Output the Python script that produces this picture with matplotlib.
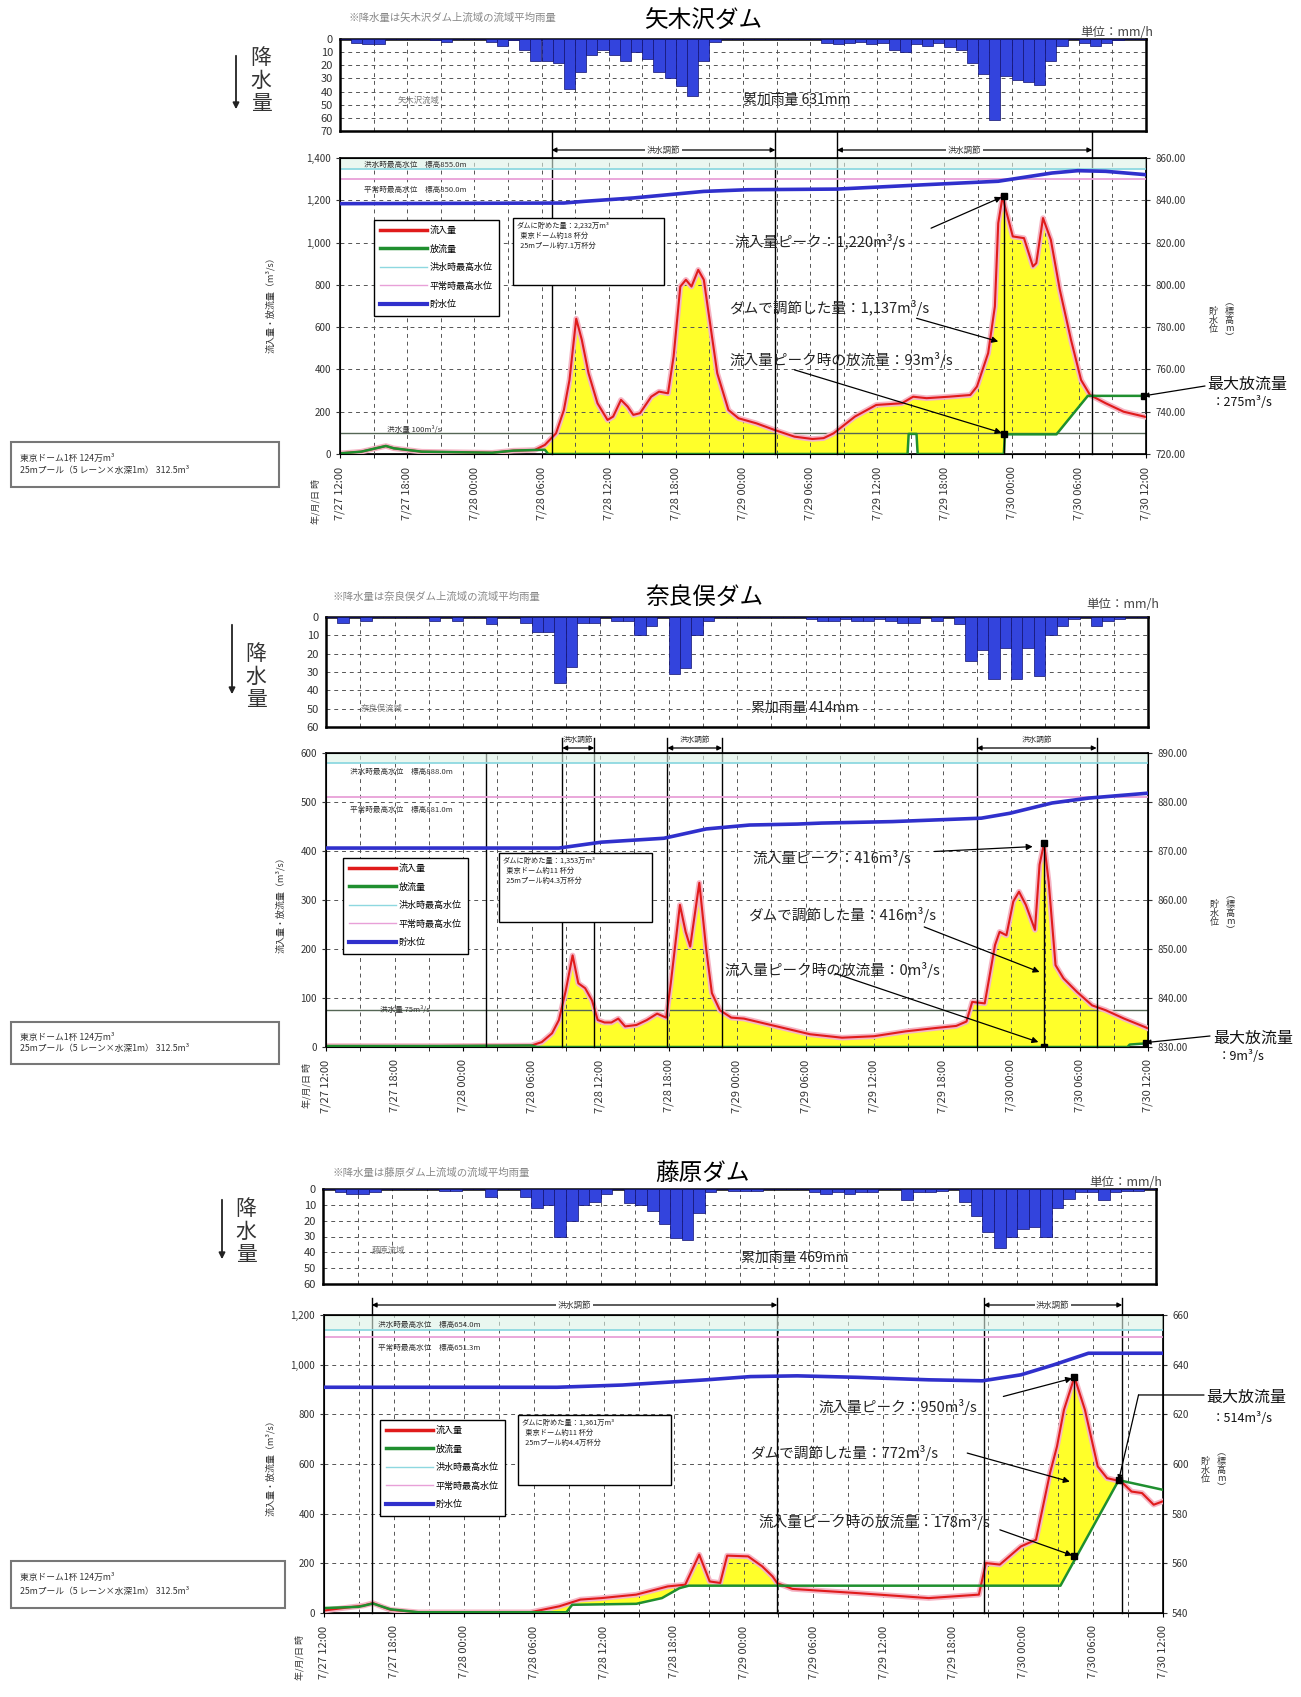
import numpy as np
import matplotlib
matplotlib.use("Agg")
import matplotlib.pyplot as plt
from matplotlib.lines import Line2D
from matplotlib.patches import Rectangle, FancyArrowPatch
from matplotlib.ticker import FuncFormatter

plt.rcParams['font.family'] = ['Noto Sans CJK JP', 'DejaVu Sans']
plt.rcParams['axes.unicode_minus'] = False

# ---------------- data ----------------
TICK_LABELS = ['7/27 12:00', '7/27 18:00', '7/28 00:00', '7/28 06:00', '7/28 12:00',
               '7/28 18:00', '7/29 00:00', '7/29 06:00', '7/29 12:00', '7/29 18:00',
               '7/30 00:00', '7/30 06:00', '7/30 12:00']
LEGEND_LABELS = ['流入量', '放流量', '洪水時最高水位', '平常時最高水位', '貯水位']

# 矢木沢ダム  (hours from 7/27 12:00)
YAG_RAIN = [0, 3, 4, 4, 0, 0, 0, 0, 1, 2, 0, 0, 0, 2, 5, 1, 8, 17, 17, 18, 38, 25, 12, 8,
            12, 17, 10, 15, 25, 30, 36, 43, 17, 2, 0, 0, 0, 0, 0, 0, 0, 0, 0, 3, 4, 3, 2, 4,
            3, 8, 10, 4, 5, 3, 6, 8, 18, 27, 62, 28, 31, 33, 35, 17, 5, 0, 3, 5, 3, 1, 0, 0]
YAG_IN_T = [0, 1.9, 4.1, 4.8, 7.3, 13.6, 15.5, 17.4, 18.3, 19.3, 20.0, 20.5, 21.1, 21.6, 22.2,
            23.0, 23.9, 24.4, 25.1, 25.7, 26.2, 26.8, 27.8, 28.5, 29.3, 29.8, 30.4, 30.9, 31.4,
            32.0, 32.5, 33.1, 33.7, 34.7, 35.6, 37.2, 38.8, 40.6, 42.2, 43.2, 44.1, 46.0, 47.9,
            50.2, 51.2, 52.4, 54.4, 56.3, 56.9, 57.9, 58.5, 58.8, 59.2, 59.4, 60.1, 61.1, 61.9,
            62.2, 62.8, 63.5, 64.3, 65.3, 66.2, 67.0, 68.4, 70.0, 72.0]
YAG_IN_Q = [3, 11, 38, 27, 11, 6, 16, 19, 43, 98, 208, 350, 640, 540, 382,
            240, 161, 177, 256, 224, 185, 193, 271, 295, 287, 461, 792, 824, 792,
            871, 824, 603, 382, 208, 169, 145, 114, 82, 71, 75, 98, 177, 232,
            240, 271, 264, 271, 279, 319, 477, 698, 1092, 1220, 1171, 1029, 1021, 887,
            903, 1116, 1013, 777, 540, 350, 279, 240, 200, 175]
YAG_OUT_T = [0, 1.9, 4.1, 4.8, 7.3, 13.6, 15.5, 17.4, 18.3, 18.6, 50.7, 50.8, 51.5, 51.6,
             59.3, 59.4, 64.0, 66.8, 72.0]
YAG_OUT_Q = [3, 11, 38, 27, 11, 6, 16, 19, 20, 0, 0, 95, 95, 0, 0, 93, 93, 275, 275]
YAG_WL_T = [0, 20, 21.8, 26.2, 32.5, 36.4, 44.4, 52.4, 58.8, 63.6, 65.9, 68.4, 72]
YAG_WL = [838.4, 838.7, 839.5, 841.1, 844.2, 845.0, 845.3, 847.4, 849.0, 852.9, 854.0, 853.7, 852.1]
YAG_FLOOD_WL, YAG_NORMAL_WL, YAG_FLOOD_Q = 855.0, 850.0, 100
YAG_CONTROL = [(18.9, 38.9), (44.4, 67.2)]
YAG_PEAK = (59.3, 1220, 93)
YAG_MAXOUT = (71.8, 275)

# 奈良俣ダム
NAR_RAIN = [0, 3, 0, 2, 0, 0, 0, 0, 0, 2, 0, 2, 0, 0, 4, 0, 0, 3, 8, 8, 36, 27, 3, 3,
            0, 2, 2, 10, 5, 0, 31, 28, 10, 2, 0, 0, 0, 0, 0, 0, 0, 0, 1, 2, 2, 1, 2, 2,
            1, 2, 3, 3, 0, 2, 0, 4, 24, 18, 34, 17, 34, 17, 32, 10, 5, 1, 0, 5, 2, 1, 0, 0]
NAR_IN_T = [0, 10, 18.0, 18.9, 19.8, 20.4, 21.0, 21.6, 22.1, 22.7, 23.3, 23.8, 24.4, 25.0,
            25.6, 26.2, 27.2, 28.1, 29.0, 29.8, 30.2, 31.0, 31.5, 31.9, 32.7, 33.3, 33.8,
            34.5, 35.5, 36.6, 39.5, 42.4, 45.2, 48.0, 50.8, 53.5, 55.2, 56.1, 56.6, 57.7,
            58.6, 59.0, 59.6, 60.2, 60.7, 61.3, 62.1, 62.5, 62.9, 63.3, 63.9, 64.6, 65.8,
            67.1, 68.3, 69.9, 71.7, 72]
NAR_IN_Q = [2, 2, 3, 10, 28, 55, 115, 187, 130, 120, 95, 55, 50, 50,
            58, 42, 45, 55, 68, 60, 130, 290, 235, 205, 335, 200, 110,
            75, 60, 58, 42, 26, 19, 22, 32, 39, 43, 52, 92, 89,
            208, 235, 228, 297, 317, 290, 239, 372, 416, 337, 167, 140, 112,
            85, 75, 58, 41, 38]
NAR_OUT_T = [0, 10, 18.0, 18.5, 70.2, 70.4, 71.6, 72]
NAR_OUT_Q = [2, 2, 3, 0, 0, 5, 7, 9]
NAR_WL_T = [0, 20.4, 24.1, 29.6, 33.3, 37.1, 41.3, 43.4, 49.6, 57.4, 59.9, 63.6, 66.8, 72]
NAR_WL = [870.6, 870.6, 871.8, 872.6, 874.5, 875.3, 875.5, 875.7, 876.0, 876.7, 877.7, 879.8,
          880.8, 881.8]
NAR_FLOOD_WL, NAR_NORMAL_WL, NAR_FLOOD_Q = 888.0, 881.0, 75
NAR_CONTROL = [(20.7, 23.5), (29.9, 34.7), (57.0, 67.5)]
NAR_PEAK = (62.9, 416, 0)
NAR_MAXOUT = (71.8, 9)

# 藤原ダム
FUJ_RAIN = [0, 2, 3, 3, 2, 0, 0, 0, 0, 0, 1, 1, 0, 0, 5, 0, 0, 5, 12, 10, 30, 20, 10, 8,
            3, 0, 9, 10, 14, 22, 31, 32, 15, 2, 0, 1, 1, 1, 0, 0, 0, 0, 2, 3, 2, 3, 2, 2,
            0, 0, 7, 2, 2, 1, 0, 8, 17, 27, 37, 30, 25, 24, 30, 12, 6, 2, 2, 7, 2, 1, 1, 0]
FUJ_IN_T = [0, 2, 3.4, 4.2, 5.0, 5.7, 8.1, 17.7, 20.2, 22.0, 23.8, 26.8, 29.5, 31.0, 32.2,
            33.1, 34.0, 34.6, 36.4, 37.6, 38.5, 38.9, 40.2, 45.8, 51.9, 56.2, 56.8, 58.0,
            59.8, 61.1, 62.3, 62.9, 63.5, 64.4, 65.3, 66.4, 67.2, 68.4, 69.3, 70.2, 71.2, 72]
FUJ_IN_Q = [10, 22, 30, 40, 25, 13, 3, 3, 27, 54, 60, 74, 107, 114, 235,
            127, 121, 231, 228, 188, 147, 120, 97, 80, 60, 74, 201, 195,
            268, 295, 563, 670, 818, 950, 818, 590, 543, 530, 489, 483, 436, 450]
FUJ_OUT_T = [0, 3.0, 4.2, 5.7, 8.1, 20.8, 21.3, 26.8, 29.0, 30.5, 31.3, 63.2, 68.2, 72]
FUJ_OUT_Q = [20, 25, 38, 15, 3, 3, 33, 37, 60, 100, 110, 110, 535, 496]
FUJ_WL_T = [0, 20, 25.6, 32.8, 36.6, 40.6, 45.8, 51.9, 56.5, 59.8, 62.6, 65.6, 72]
FUJ_WL = [630.9, 630.9, 631.8, 633.9, 635.2, 635.5, 634.9, 633.9, 633.5, 635.9, 639.9, 644.6, 644.6]
FUJ_FLOOD_WL, FUJ_NORMAL_WL = 654.0, 651.3
FUJ_CONTROL = [(4.1, 38.9), (56.6, 68.5)]
FUJ_PEAK = (64.4, 950, 228)
FUJ_MAXOUT = (68.2, 535)

# ---------------- figure helpers ----------------
W, H = 1301, 1697
fig = plt.figure(figsize=(W / 100, H / 100), dpi=100)
fig.patch.set_facecolor('white')


def fx(x):
    return x / W


def fy(y):
    return 1 - y / H


def add_ax(x0, y0, x1, y1):
    return fig.add_axes([fx(x0), fy(y1), (x1 - x0) / W, (y1 - y0) / H])


def ftext(x, y, s, **kw):
    return fig.text(fx(x), fy(y), s, **kw)


def fbox(x0, y0, x1, y1, lw=1.0, ec='k'):
    r = Rectangle((fx(x0), fy(y1)), (x1 - x0) / W, (y1 - y0) / H, transform=fig.transFigure,
                  fc='white', ec=ec, lw=lw, zorder=2)
    fig.patches.append(r)


GRID = dict(color='#555555', lw=0.7, ls=(0, (4, 4)))
RED, GREEN, BLUE = '#E01B1B', '#1F8F2F', '#3030CC'
CYAN, PINK = '#8ED8E0', '#E8A0D8'


def draw_panel(P):
    # ---- rainfall ----
    axr = add_ax(*P['rain_box'])
    rain = np.array(P['rain'])
    axr.bar(np.arange(len(rain)) + 0.5, rain, width=1.0, color='#3344DD',
            edgecolor='#101070', lw=0.5, zorder=3)
    axr.set_xlim(0, 72)
    axr.set_ylim(P['rain_max'], 0)
    axr.set_yticks(np.arange(0, P['rain_max'] + 1, 10))
    axr.set_xticks(np.arange(0, 73, 3))
    axr.tick_params(axis='x', length=0, labelbottom=False)
    axr.tick_params(axis='y', labelsize=8, length=0, pad=5, colors='#333333')
    axr.grid(True, **GRID)
    for s in axr.spines.values():
        s.set_linewidth(1.8)
    ftext(*P['rain_total_xy'], P['rain_total'], fontsize=10, va='center', color='#222222')
    ftext(*P['station_xy'], P['station'], fontsize=6, va='center', color='#777777')

    # ---- flow ----
    axf = add_ax(*P['flow_box'])
    axf.set_xlim(0, 72)
    axf.set_ylim(0, P['qmax'])
    axf.set_yticks(np.arange(0, P['qmax'] + 1, P['qstep']))
    axf.yaxis.set_major_formatter(FuncFormatter(lambda v, p: f'{int(v):,}'))
    axf.set_xticks(np.arange(0, 73, 6))
    axf.set_xticklabels(TICK_LABELS, rotation=90, fontsize=8, color='#333333')
    axf.set_xticks(np.arange(0, 73, 3), minor=True)
    axf.set_axisbelow(False)
    axf.grid(True, which='both', axis='x', **GRID)
    axf.grid(True, which='major', axis='y', **GRID)
    axf.tick_params(axis='y', labelsize=7, length=3, colors='#333333')
    axf.tick_params(axis='x', which='both', length=3, pad=6)
    for s in axf.spines.values():
        s.set_linewidth(1.2)

    it, iq = np.array(P['in_t'], float), np.array(P['in_q'], float)
    ot, oq = np.array(P['out_t'], float), np.array(P['out_q'], float)
    t = np.union1d(it, ot)
    qi, qo = np.interp(t, it, iq), np.interp(t, ot, oq)
    axf.fill_between(t, qo, qi, where=qi > qo, interpolate=True, color='#FFFF2A', lw=0, zorder=1)
    if P['flood_q'] is not None:
        axf.axhline(P['flood_q'], color='#556655', lw=1.0, zorder=2)
        ftext(*P['flood_q_xy'], P['flood_q_text'], fontsize=5.5, va='center', color='#333333')
    axf.plot(it, iq, color='#F5B5C5', lw=4, zorder=3)
    axf.plot(it, iq, color=RED, lw=1.5, zorder=4)
    axf.plot(ot, oq, color=GREEN, lw=1.8, zorder=5)

    # ---- water level (right axis) ----
    axw = axf.twinx()
    axw.set_ylim(P['wl_min'], P['wl_max'])
    axw.set_yticks(np.arange(P['wl_min'], P['wl_max'] + 0.01, P['wl_step']))
    fmt = P['wl_fmt']
    axw.yaxis.set_major_formatter(FuncFormatter(lambda v, p: fmt.format(v)))
    axw.tick_params(labelsize=7, length=3, colors='#333333')
    axw.axhspan(P['flood_wl'], P['wl_max'], color='#DDF3E6', alpha=0.6, lw=0, zorder=0)
    axw.axhline(P['flood_wl'], color=CYAN, lw=1.3, zorder=1)
    axw.axhline(P['normal_wl'], color=PINK, lw=1.3, zorder=1)
    axw.plot(P['wl_t'], P['wl'], color=BLUE, lw=2.6, zorder=5)
    ftext(*P['flood_wl_xy'], P['flood_wl_text'], fontsize=5.5, va='center', color='#333333')
    ftext(*P['normal_wl_xy'], P['normal_wl_text'], fontsize=5.5, va='center', color='#333333')

    # ---- flood control periods ----
    xt = axf.get_xaxis_transform()
    for a, b in P['control']:
        for hh in (a, b):
            axf.plot([hh, hh], [0, P['vtop']], color='k', lw=1.0, transform=xt,
                     clip_on=False, zorder=6)
        axf.annotate('', xy=(b, P['arrow_y']), xytext=(a, P['arrow_y']), xycoords=xt,
                     textcoords=xt, annotation_clip=False,
                     arrowprops=dict(arrowstyle='<|-|>', color='k', lw=0.9,
                                     mutation_scale=7, shrinkA=0, shrinkB=0))
        if P['ctrl_text_on_arrow']:
            axf.text((a + b) / 2, P['arrow_y'], '洪水調節', transform=xt, ha='center',
                     va='center', fontsize=6, color='#333333', clip_on=False, zorder=8,
                     bbox=dict(fc='white', ec='none', pad=1.0))
        else:
            axf.text((a + b) / 2, P['ctrl_text_y'], '洪水調節', transform=xt, ha='center',
                     va='center', fontsize=5.5, color='#333333', clip_on=False)
    for hh in P.get('extra_vlines', []):
        axf.plot([hh, hh], [0, 1], color='k', lw=1.0, transform=xt, zorder=6)

    # ---- peak markers ----
    ph, pq, po = P['peak']
    axf.plot([ph, ph], [P['peak_vbottom'], pq], color='k', lw=1.0, zorder=6)
    axf.plot([ph, ph], [pq, po], 's', color='k', ms=4, zorder=7)
    mh, mq = P['maxout']
    axf.plot(mh, mq, 's', color='k', ms=4, zorder=7)

    for s, tx, ty, st, tip in P['notes']:
        ftext(tx, ty, s, fontsize=10.5, va='center', ha='left', color='#222222')
        axf.annotate('', xy=tip, xytext=st, zorder=8,
                     arrowprops=dict(arrowstyle='-|>', color='k', lw=0.9,
                                     mutation_scale=9, shrinkA=0, shrinkB=0))

    # max outflow label
    (t1, x1, y1), (t2, x2, y2) = P['maxout_text']
    ftext(x1, y1, t1, fontsize=11.5, va='center', color='#111111')
    ftext(x2, y2, t2, fontsize=9, va='center', color='#111111')
    lx, ly = P['maxout_line_to']
    if P.get('maxout_knee') is not None:
        kh, kq = P['maxout_knee']
        axf.annotate('', xy=(kh, kq), xytext=(fx(lx), fy(ly)), textcoords='figure fraction',
                     annotation_clip=False,
                     arrowprops=dict(arrowstyle='-', color='k', lw=0.9, shrinkA=0, shrinkB=0))
        axf.annotate('', xy=(mh, mq), xytext=(kh, kq), annotation_clip=False,
                     arrowprops=dict(arrowstyle='-|>', color='k', lw=0.9, mutation_scale=7,
                                     shrinkA=0, shrinkB=0))
    else:
        axf.annotate('', xy=(mh, mq), xytext=(fx(lx), fy(ly)), textcoords='figure fraction',
                     annotation_clip=False,
                     arrowprops=dict(arrowstyle='-|>', color='k', lw=0.9, mutation_scale=7,
                                     shrinkA=0, shrinkB=0))

    # legend
    handles = [Line2D([], [], color=RED, lw=2.5), Line2D([], [], color=GREEN, lw=2.5),
               Line2D([], [], color=CYAN, lw=1.0), Line2D([], [], color=PINK, lw=1.0),
               Line2D([], [], color=BLUE, lw=3.0)]
    lx0, ly0 = P['legend_xy']
    leg = axw.legend(handles, LEGEND_LABELS, loc='upper left',
                     bbox_to_anchor=(fx(lx0), fy(ly0)), bbox_transform=fig.transFigure,
                     fontsize=6.5, handlelength=5.2, handletextpad=0.3, labelspacing=1.05,
                     borderpad=0.7, frameon=True, fancybox=False, edgecolor='k',
                     framealpha=1)
    leg.get_frame().set_linewidth(1.0)
    leg.set_zorder(20)

    # info box
    bx0, by0, bx1, by1 = P['info_box']
    fbox(bx0, by0, bx1, by1, lw=1.0)
    ftext(bx0 + 4, by0 + 4, '\n'.join(P['info']), fontsize=5.2, va='top', linespacing=1.3,
          color='#222222')

    # left side
    lb = P['left_box']
    fbox(*lb, lw=1.5, ec='#777777')
    ftext(lb[0] + 9, (lb[1] * 2 + lb[3]) / 3 + 1, P['left_text'][0], fontsize=6.3,
          va='center', color='#333333')
    ftext(lb[0] + 9, (lb[1] + lb[3] * 2) / 3 - 1, P['left_text'][1], fontsize=6.3,
          va='center', color='#333333')
    ftext(*P['ylabel_xy'], '流入量・放流量（m³/s）', rotation=90, fontsize=6.5,
          ha='center', va='center', color='#333333')
    ftext(*P['xlabel_xy'], '年/月/日 時', rotation=90, fontsize=6.5, ha='center',
          va='center', color='#333333')
    rx, ry = P['rlabel_xy']
    ftext(rx, ry, '貯\n水\n位', fontsize=6.5, ha='center', va='center', linespacing=1.0,
          color='#333333')
    ftext(rx + 16, ry, '︵\n標\n高\nm\n︶', fontsize=6.5, ha='center', va='center',
          linespacing=0.95, color='#333333')

    # header texts
    ftext(*P['title_xy'], P['title'], fontsize=17, ha='center', va='center')
    ftext(*P['note_xy'], P['note'], fontsize=7.5, va='center', color='#888888')
    ftext(*P['unit_xy'], '単位：mm/h', fontsize=9, ha='right', va='center', color='#444444')
    kx, ky = P['kousui_xy']
    ftext(kx, ky, '降\n水\n量', fontsize=15, ha='center', va='center', linespacing=1.05,
          color='#333333')
    ax_, ay0, ay1 = P['kousui_arrow']
    fig.patches.append(FancyArrowPatch((fx(ax_), fy(ay0)), (fx(ax_), fy(ay1)),
                                       transform=fig.transFigure, arrowstyle='-|>',
                                       mutation_scale=9, lw=1.3, color='#222222'))


def frac(box, y):
    return (box[3] - y) / (box[3] - box[1])


LEFT_TEXT = ['東京ドーム1杯 124万m³', '25mプール（5 レーン×水深1m） 312.5m³']

P1_FLOW = (340, 158, 1146, 454)
P1 = dict(
    title='矢木沢ダム', title_xy=(703, 21), note='※降水量は矢木沢ダム上流域の流域平均雨量',
    note_xy=(349, 18), unit_xy=(1153, 32), kousui_xy=(261, 81), kousui_arrow=(236, 53, 112),
    rain_box=(340, 39, 1146, 131), rain=YAG_RAIN, rain_max=70,
    rain_total='累加雨量 631mm', rain_total_xy=(743, 100), station='矢木沢流域', station_xy=(398, 100),
    flow_box=P1_FLOW, qmax=1400, qstep=200,
    in_t=YAG_IN_T, in_q=YAG_IN_Q, out_t=YAG_OUT_T, out_q=YAG_OUT_Q,
    flood_q=YAG_FLOOD_Q, flood_q_xy=(387, 430), flood_q_text='洪水量 100m³/s',
    wl_min=720, wl_max=860, wl_step=20, wl_fmt='{:.2f}', wl_t=YAG_WL_T, wl=YAG_WL,
    flood_wl=YAG_FLOOD_WL, normal_wl=YAG_NORMAL_WL,
    flood_wl_text='洪水時最高水位　標高855.0m', flood_wl_xy=(364, 165),
    normal_wl_text='平常時最高水位　標高850.0m', normal_wl_xy=(364, 190),
    control=YAG_CONTROL, vtop=frac(P1_FLOW, 131), arrow_y=frac(P1_FLOW, 150),
    ctrl_text_on_arrow=True, ctrl_text_y=None,
    peak=YAG_PEAK, peak_vbottom=0, maxout=YAG_MAXOUT,
    notes=[('流入量ピーク：1,220m³/s', 734, 242, (52.8, 1068), (59.1, 1215)),
           ('ダムで調節した量：1,137m³/s', 729, 308, (51.5, 642), (58.8, 532)),
           ('流入量ピーク時の放流量：93m³/s', 729, 360, (40.6, 398), (59.1, 100))],
    maxout_text=(('最大放流量', 1207, 384), ('：275m³/s', 1212, 403)),
    maxout_line_to=(1205, 386), maxout_knee=None,
    legend_xy=(369, 215),
    info_box=(513, 218, 664, 285),
    info=['ダムに貯めた量：2,232万m³', '  東京ドーム約18 杯分', '  25mプール約7.1万杯分'],
    left_box=(11, 442, 279, 487), left_text=LEFT_TEXT,
    ylabel_xy=(270, 303), xlabel_xy=(316, 502), rlabel_xy=(1213, 320),
)

P2_FLOW = (326, 753, 1148, 1047)
P2 = dict(
    title='奈良俣ダム', title_xy=(704, 597), note='※降水量は奈良俣ダム上流域の流域平均雨量',
    note_xy=(333, 597), unit_xy=(1159, 605), kousui_xy=(256, 677), kousui_arrow=(232, 622, 697),
    rain_box=(326, 617, 1148, 727), rain=NAR_RAIN, rain_max=60,
    rain_total='累加雨量 414mm', rain_total_xy=(751, 708), station='奈良俣流域', station_xy=(361, 708),
    flow_box=P2_FLOW, qmax=600, qstep=100,
    in_t=NAR_IN_T, in_q=NAR_IN_Q, out_t=NAR_OUT_T, out_q=NAR_OUT_Q,
    flood_q=NAR_FLOOD_Q, flood_q_xy=(380, 1010), flood_q_text='洪水量 75m³/s',
    wl_min=830, wl_max=890, wl_step=10, wl_fmt='{:.2f}', wl_t=NAR_WL_T, wl=NAR_WL,
    flood_wl=NAR_FLOOD_WL, normal_wl=NAR_NORMAL_WL,
    flood_wl_text='洪水時最高水位　標高888.0m', flood_wl_xy=(350, 772),
    normal_wl_text='平常時最高水位　標高881.0m', normal_wl_xy=(350, 810),
    control=NAR_CONTROL, vtop=frac(P2_FLOW, 738), arrow_y=frac(P2_FLOW, 748),
    ctrl_text_on_arrow=False, ctrl_text_y=frac(P2_FLOW, 740),
    extra_vlines=[14.0],
    peak=NAR_PEAK, peak_vbottom=0, maxout=NAR_MAXOUT,
    notes=[('流入量ピーク：416m³/s', 752, 858, (53.3, 399), (61.9, 409)),
           ('ダムで調節した量：416m³/s', 748, 915, (52.4, 245), (62.5, 153)),
           ('流入量ピーク時の放流量：0m³/s', 724, 970, (44.6, 150), (62.4, 10))],
    maxout_text=(('最大放流量', 1213, 1038), ('：9m³/s', 1218, 1057)),
    maxout_line_to=(1210, 1036), maxout_knee=None,
    legend_xy=(338, 853),
    info_box=(499, 853, 652, 922),
    info=['ダムに貯めた量：1,353万m³', '  東京ドーム約11 杯分', '  25mプール約4.3万杯分'],
    left_box=(11, 1022, 279, 1064), left_text=LEFT_TEXT,
    ylabel_xy=(280, 903), xlabel_xy=(307, 1085), rlabel_xy=(1214, 913),
)

P3_FLOW = (324, 1315, 1163, 1613)
P3 = dict(
    title='藤原ダム', title_xy=(702, 1173), note='※降水量は藤原ダム上流域の流域平均雨量',
    note_xy=(333, 1173), unit_xy=(1162, 1182), kousui_xy=(246, 1232), kousui_arrow=(222, 1197, 1262),
    rain_box=(323, 1189, 1156, 1284), rain=FUJ_RAIN, rain_max=60,
    rain_total='累加雨量 469mm', rain_total_xy=(741, 1258), station='藤原流域', station_xy=(372, 1250),
    flow_box=P3_FLOW, qmax=1200, qstep=200,
    in_t=FUJ_IN_T, in_q=FUJ_IN_Q, out_t=FUJ_OUT_T, out_q=FUJ_OUT_Q,
    flood_q=None,
    wl_min=540, wl_max=660, wl_step=20, wl_fmt='{:.0f}', wl_t=FUJ_WL_T, wl=FUJ_WL,
    flood_wl=FUJ_FLOOD_WL, normal_wl=FUJ_NORMAL_WL,
    flood_wl_text='洪水時最高水位　標高654.0m', flood_wl_xy=(378, 1325),
    normal_wl_text='平常時最高水位　標高651.3m', normal_wl_xy=(378, 1348),
    control=FUJ_CONTROL, vtop=frac(P3_FLOW, 1298), arrow_y=frac(P3_FLOW, 1305),
    ctrl_text_on_arrow=True, ctrl_text_y=None,
    peak=FUJ_PEAK, peak_vbottom=FUJ_PEAK[2], maxout=FUJ_MAXOUT,
    notes=[('流入量ピーク：950m³/s', 818, 1407, (58.3, 872), (64.2, 945)),
           ('ダムで調節した量：772m³/s', 750, 1453, (55.2, 644), (64.0, 529)),
           ('流入量ピーク時の放流量：178m³/s', 758, 1522, (58.0, 335), (64.2, 232))],
    maxout_text=(('最大放流量', 1206, 1397), ('：514m³/s', 1212, 1418)),
    maxout_line_to=(1204, 1395), maxout_knee=(69.9, 878),
    legend_xy=(375, 1415),
    info_box=(518, 1415, 671, 1485),
    info=['ダムに貯めた量：1,361万m³', '  東京ドーム約11 杯分', '  25mプール約4.4万杯分'],
    left_box=(11, 1561, 285, 1608), left_text=LEFT_TEXT,
    ylabel_xy=(270, 1466), xlabel_xy=(300, 1657), rlabel_xy=(1205, 1470),
)

for P in (P1, P2, P3):
    draw_panel(P)

fig.savefig('out.png', dpi=100, facecolor='white')
